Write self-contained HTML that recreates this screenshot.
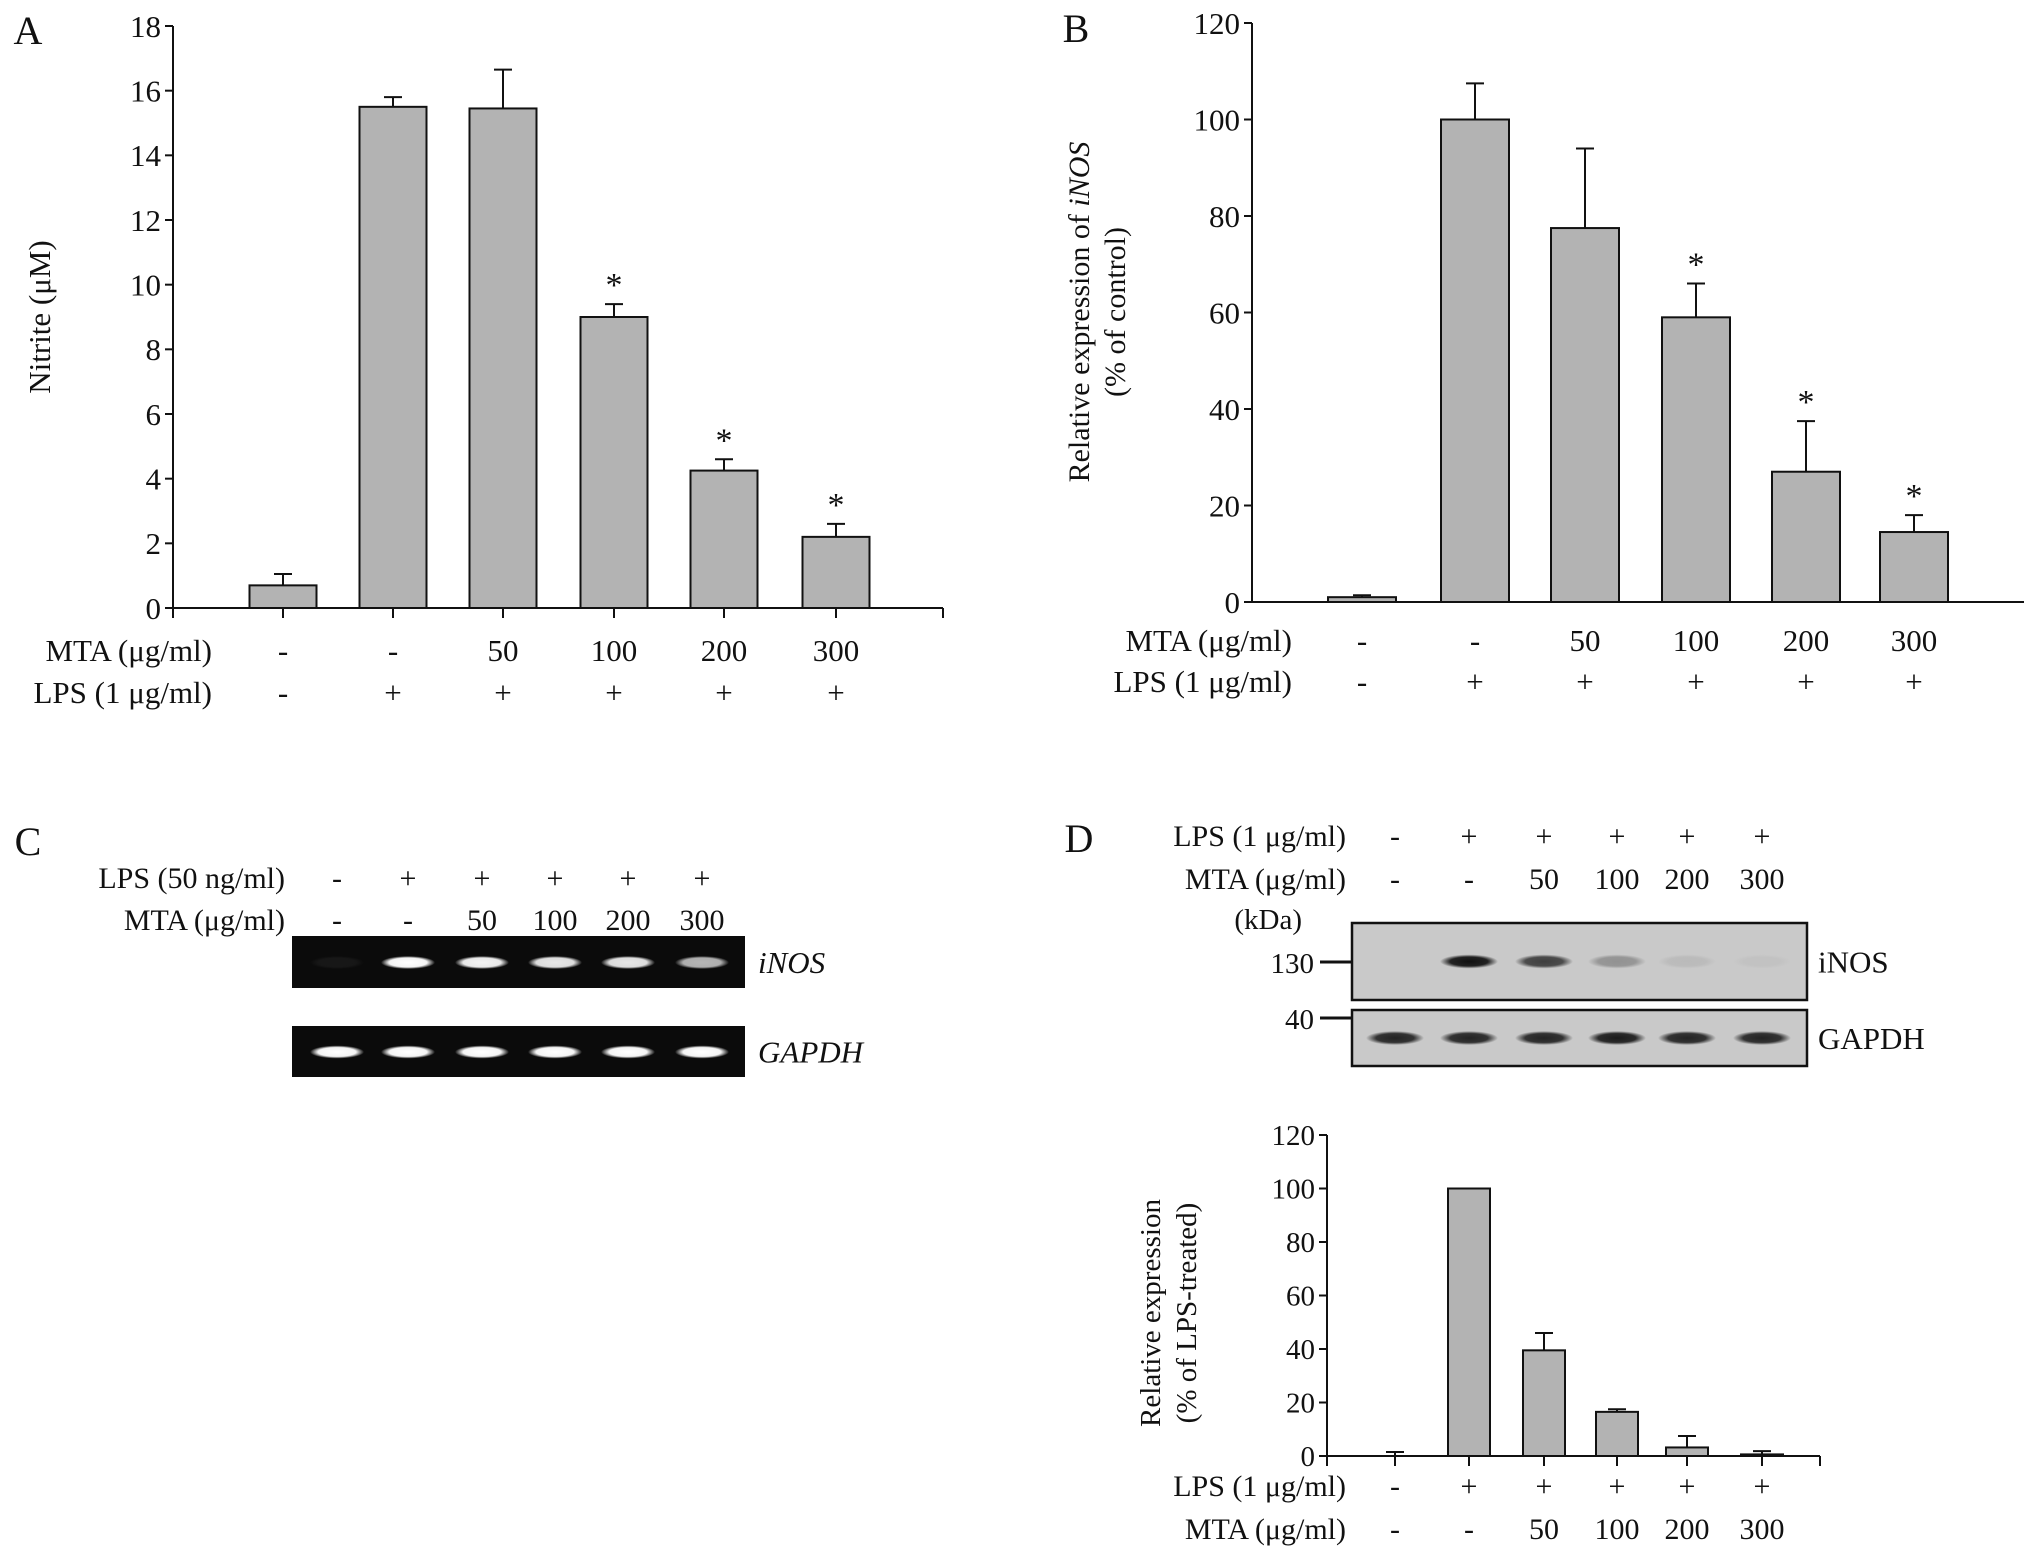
<!DOCTYPE html>
<html><head><meta charset="utf-8"><style>
html,body{margin:0;padding:0;background:#fff;}
svg, svg text{font-family:"Liberation Serif","Times New Roman",serif;}
</style></head><body>
<svg id="fig" width="2031" height="1553" viewBox="0 0 2031 1553" xmlns="http://www.w3.org/2000/svg">
<rect width="2031" height="1553" fill="#fff"/>
<g id="root"></g>
</svg>
<script>
// Panel A data
const aValues = [0.7, 15.5, 15.45, 9.0, 4.25, 2.2];
const aErrors = [0.35, 0.3, 1.2, 0.4, 0.35, 0.4];
const aStars = [false, false, false, true, true, true];
const aTicks = [0, 2, 4, 6, 8, 10, 12, 14, 16, 18];
// Panel B data
const bValues = [1, 100, 77.5, 59, 27, 14.5];
const bErrors = [0.4, 7.5, 16.5, 7, 10.5, 3.5];
const bStars = [false, false, false, true, true, true];
const bTicks = [0, 20, 40, 60, 80, 100, 120];
// Panel D data
const dValues = [0, 100, 39.5, 16.5, 3.2, 0.6];
const dErrors = [1.5, 0, 6.5, 1, 4.3, 1.2];
const dTicks = [0, 20, 40, 60, 80, 100, 120];
// conditions
const mtaLabels = ['-', '-', '50', '100', '200', '300'];
const lpsLabels = ['-', '+', '+', '+', '+', '+'];
// gel band intensities
const gelInos = [0.05, 1, 0.95, 0.9, 0.9, 0.7];
const gelGapdh = [1, 1, 1, 1, 1, 1];
const blotInos = [0, 1, 0.75, 0.3, 0.08, 0.04];
const blotGapdh = [0.9, 0.9, 0.9, 0.95, 0.9, 0.9];

const NS = 'http://www.w3.org/2000/svg';
const FONT = '"Liberation Serif", "Times New Roman", serif';
const root = document.getElementById('root');
function mk(tag, attrs, parent, text) {
  const e = document.createElementNS(NS, tag);
  for (const k in attrs) e.setAttribute(k, attrs[k]);
  if (text !== undefined) e.textContent = text;
  (parent || root).appendChild(e);
  return e;
}
function txt(x, y, s, size, anchor, parent, extra) {
  const t = mk('text', Object.assign({x: x, y: y, 'font-size': size, 'font-family': FONT, 'text-anchor': anchor || 'middle', fill: '#111'}, extra || {}), parent, s);
  return t;
}

function barChart(cfg) {
  const g = mk('g', {});
  
  
  const yMax = cfg.ticks[cfg.ticks.length - 1];
  const yS = v => cfg.y0 - (v / yMax) * (cfg.y0 - cfg.yTop);
  const ax = mk('line', {x1: cfg.x0, y1: cfg.yTop, x2: cfg.x0, y2: cfg.y0, stroke: '#111', 'stroke-width': 2}, g);
  
  
  cfg.ticks.forEach(t => {
    const y = yS(t);
    mk('line', {x1: cfg.x0 - 8, y1: y, x2: cfg.x0, y2: y, stroke: '#111', 'stroke-width': 2}, g);
    const tl = txt(cfg.x0 - 12, y + cfg.tickSize * 0.35, String(t), cfg.tickSize, 'end', g);
    
    
  });
  const xa = mk('line', {x1: cfg.x0, y1: cfg.y0, x2: cfg.xEnd, y2: cfg.y0, stroke: '#111', 'stroke-width': 2}, g);
  
  
  if (cfg.xTicks) {
    [cfg.x0].concat(cfg.centers, [cfg.xEnd]).forEach(x => {
      mk('line', {x1: x, y1: cfg.y0, x2: x, y2: cfg.y0 + 10, stroke: '#111', 'stroke-width': 2}, g);
    });
  }
  cfg.values.forEach((v, i) => {
    const cx = cfg.centers[i];
    const top = yS(v + cfg.errors[i]);
    if (cfg.errors[i] > 0) {
      const e = mk('path', {d: 'M' + cx + ' ' + yS(v) + 'V' + top + 'M' + (cx - 9) + ' ' + top + 'H' + (cx + 9), stroke: '#111', 'stroke-width': 2, fill: 'none'}, g);
      
      
    }
    const b = mk('rect', {x: cx - cfg.bw / 2, y: yS(v), width: cfg.bw, height: cfg.y0 - yS(v), fill: '#b3b3b3', stroke: '#111', 'stroke-width': 2}, g);
    
    
    if (cfg.stars && cfg.stars[i]) {
      const s = txt(cx, top - 8, '*', 34, 'middle', g);
      
      
    }
  });
  return g;
}

function condRows(g, labelX, centers, y1, y2, l1, l2, v1, v2, size) {
  txt(labelX, y1, l1, size, 'end', g);
  txt(labelX, y2, l2, size, 'end', g);
  centers.forEach((c, i) => {
    txt(c, y1, v1[i], size, 'middle', g);
    txt(c, y2, v2[i], size, 'middle', g);
  });
}

// ---------- Panel A ----------
const aCenters = [283, 393, 503, 614, 724, 836];
const gA = barChart({name: 'panel-a-chart', x0: 173, yTop: 26, y0: 608, xEnd: 943, ticks: aTicks, values: aValues, errors: aErrors, stars: aStars, centers: aCenters, bw: 67, tickSize: 31, xTicks: true});
txt(28, 44, 'A', 40, 'middle', gA);
txt(0, 0, 'Nitrite (μM)', 31, 'middle', gA, {transform: 'translate(50,317) rotate(-90)'});
condRows(gA, 212, aCenters, 661, 703, 'MTA (μg/ml)', 'LPS (1 μg/ml)', mtaLabels, lpsLabels, 31);

// ---------- Panel B ----------
const bCenters = [1362, 1475, 1585, 1696, 1806, 1914];
const gB = barChart({name: 'panel-b-chart', x0: 1252, yTop: 23, y0: 602, xEnd: 2024, ticks: bTicks, values: bValues, errors: bErrors, stars: bStars, centers: bCenters, bw: 68, tickSize: 31, xTicks: false});
txt(1076, 42, 'B', 40, 'middle', gB);
const bt = mk('text', {'font-size': 30, 'font-family': FONT, 'text-anchor': 'middle', fill: '#111', transform: 'translate(1089,312) rotate(-90)'}, gB);


mk('tspan', {}, bt, 'Relative expression of ');
mk('tspan', {'font-style': 'italic'}, bt, 'iNOS');
txt(0, 0, '(% of control)', 30, 'middle', gB, {transform: 'translate(1125,312) rotate(-90)'});
condRows(gB, 1292, bCenters, 651, 692, 'MTA (μg/ml)', 'LPS (1 μg/ml)', mtaLabels, lpsLabels, 31);

// ---------- Panel C ----------
const gC = mk('g', {});


const cCenters = [337, 408, 482, 555, 628, 702];
txt(28, 855, 'C', 40, 'middle', gC);
condRows(gC, 285, cCenters, 888, 930, 'LPS (50 ng/ml)', 'MTA (μg/ml)', lpsLabels, mtaLabels, 30);
const defs = mk('defs', {});
const gr = mk('radialGradient', {id: 'band', cx: '50%', cy: '50%', r: '50%'}, defs);
mk('stop', {offset: '0%', 'stop-color': '#fff'}, gr);
mk('stop', {offset: '70%', 'stop-color': '#f4f4f4'}, gr);
mk('stop', {offset: '100%', 'stop-color': '#fff', 'stop-opacity': 0}, gr);
const gd = mk('radialGradient', {id: 'dband', cx: '50%', cy: '50%', r: '50%'}, defs);
mk('stop', {offset: '0%', 'stop-color': '#111'}, gd);
mk('stop', {offset: '65%', 'stop-color': '#222'}, gd);
mk('stop', {offset: '100%', 'stop-color': '#222', 'stop-opacity': 0}, gd);
function gel(y, h, vals, name, label) {
  const r = mk('rect', {x: 292, y: y, width: 453, height: h, fill: '#0b0b0b'}, gC);
  
  
  vals.forEach((v, i) => {
    const band = mk('rect', {x: cCenters[i] - 27, y: y + h / 2 - 6, width: 54, height: 13, rx: 6, fill: 'url(#band)', opacity: v}, gC);
    
    
  });
  txt(758, y + h / 2 + 11, label, 31, 'start', gC, {'font-style': 'italic'});
}
gel(936, 52, gelInos, 'inos-gel', 'iNOS');
gel(1026, 51, gelGapdh, 'gapdh-gel', 'GAPDH');

// ---------- Panel D blots ----------
const gDb = mk('g', {});


const dCenters = [1395, 1469, 1544, 1617, 1687, 1762];
txt(1079, 852, 'D', 40, 'middle', gDb);
condRows(gDb, 1346, dCenters, 846, 889, 'LPS (1 μg/ml)', 'MTA (μg/ml)', lpsLabels, mtaLabels, 30);
txt(1302, 929, '(kDa)', 29, 'end', gDb);
function blot(y, h, vals, name, label, marker, my) {
  const r = mk('rect', {x: 1352, y: y, width: 455, height: h, fill: '#c9c9c9', stroke: '#111', 'stroke-width': 2.5}, gDb);
  
  
  vals.forEach((v, i) => {
    const band = mk('rect', {x: dCenters[i] - 29, y: y + h / 2 - 7, width: 58, height: 14, rx: 6, fill: 'url(#dband)', opacity: v}, gDb);
    
    
  });
  txt(1818, y + h / 2 + 11, label, 31, 'start', gDb);
  txt(1314, my + 11, marker, 29, 'end', gDb);
  mk('line', {x1: 1320, y1: my, x2: 1352, y2: my, stroke: '#111', 'stroke-width': 3}, gDb);
}
blot(923, 77, blotInos, 'inos-blot', 'iNOS', '130', 962);
blot(1010, 56, blotGapdh, 'gapdh-blot', 'GAPDH', '40', 1018);

// ---------- Panel D chart ----------
const gD = barChart({name: 'panel-d-chart', x0: 1327, yTop: 1135, y0: 1456, xEnd: 1820, ticks: dTicks, values: dValues, errors: dErrors, stars: null, centers: dCenters, bw: 42, tickSize: 29, xTicks: true});
txt(0, 0, 'Relative expression', 29, 'middle', gD, {transform: 'translate(1160,1313) rotate(-90)'});
txt(0, 0, '(% of LPS-treated)', 29, 'middle', gD, {transform: 'translate(1196,1313) rotate(-90)'});
condRows(gD, 1346, dCenters, 1496, 1539, 'LPS (1 μg/ml)', 'MTA (μg/ml)', lpsLabels, mtaLabels, 30);
</script>
</body></html>
